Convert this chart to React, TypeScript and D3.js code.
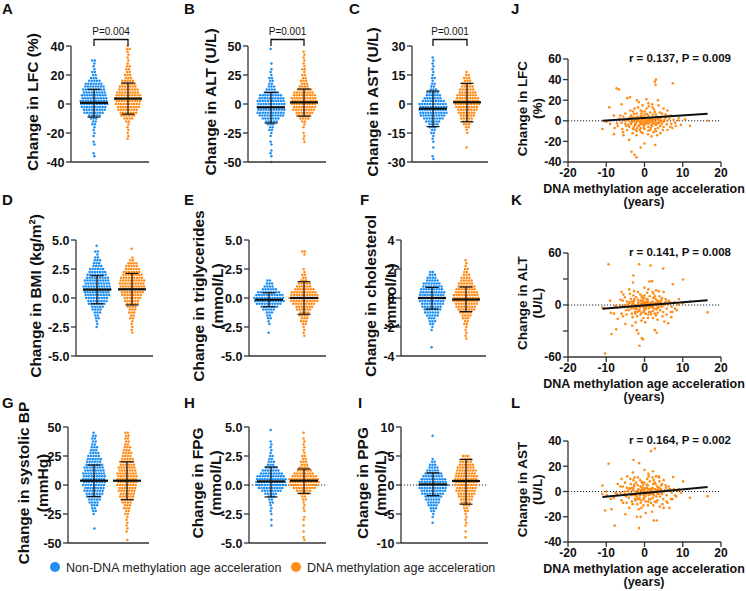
import * as d3 from 'd3';

const BLUE = '#1e8ff2';
const ORANGE = '#ff8c17';
const FONT = '"Liberation Sans", Arial, Helvetica, sans-serif';
const AXIS = '#333';

const legendLabels = ['Non-DNA methylation age acceleration', 'DNA methylation age acceleration'];

// Swarm panels: each group is a list of dot counts per row, read from its top value downward.
// Stats are [mean, mean + SD, mean - SD].

// A. LFC (%)
const lfcStep = 2;
const lfcTops = [30, 40];
const lfcNon = [2, 1, 1, 1, 2, 2, 3, 5, 7, 8, 9, 9, 10, 10, 11, 11, 10, 9, 8, 5, 3, 2, 2, 1, 1, 1, 1, 0, 1, 1, 0, 0, 1, 1];
const lfcAcc = [1, 2, 1, 1, 1, 1, 1, 2, 2, 2, 3, 3, 5, 6, 7, 8, 9, 10, 10, 10, 10, 9, 8, 7, 6, 4, 2, 1, 1, 1, 1, 1, 1];
const lfcStats = [[0.8, 10.1, -9], [3.7, 14.5, -7]];
const lfcTicks = [-40, -20, 0, 20, 40];

// B. ALT (U/L)
const altStep = 2.5;
const altTops = [47.5, 45];
const altNon = [1, 0, 0, 0, 0, 1, 0, 1, 1, 1, 2, 2, 2, 3, 4, 6, 9, 10, 11, 11, 11, 11, 11, 10, 7, 5, 3, 2, 2, 1, 1, 0, 1, 1, 0, 1, 1, 1, 0, 1];
const altAcc = [1, 1, 1, 1, 1, 1, 2, 1, 2, 2, 3, 3, 4, 6, 8, 9, 10, 10, 10, 9, 9, 7, 6, 4, 2, 1, 1, 0, 1, 1, 1, 1];
const altStats = [[-2.9, 10, -16.4], [1.4, 12.9, -10.5]];
const altTicks = [-50, -25, 0, 25, 50];

// C. AST (U/L)
const astStep = 1.5;
const astTops = [24, 16.5];
const astNon = [1, 1, 1, 1, 1, 1, 1, 2, 1, 2, 2, 3, 5, 6, 7, 9, 11, 11, 11, 11, 10, 8, 6, 4, 3, 2, 2, 1, 1, 1, 0, 1, 0, 0, 1, 1];
const astAcc = [1, 2, 3, 3, 4, 5, 6, 7, 8, 9, 10, 10, 9, 8, 7, 6, 5, 4, 3, 2, 1, 1, 0, 0, 0, 0, 1];
const astStats = [[-2.4, 6.7, -11.7], [0.9, 10.7, -9.2]];
const astTicks = [-30, -15, 0, 15, 30];

// D. BMI (kg/m2)
const bmiStep = 0.25;
const bmiTops = [4.5, 4.25];
const bmiNon = [1, 0, 2, 1, 2, 3, 3, 4, 6, 7, 8, 9, 10, 10, 11, 11, 10, 10, 9, 8, 7, 5, 4, 3, 2, 2, 1, 1, 1];
const bmiAcc = [1, 0, 0, 1, 2, 4, 5, 6, 7, 8, 9, 10, 10, 10, 10, 9, 8, 7, 6, 5, 4, 3, 3, 2, 2, 1, 1, 1, 1, 1];
const bmiStats = [[0.72, 1.92, -0.5], [0.75, 2.12, -0.6]];
const bmiTicks = [-5, -2.5, 0, 2.5, 5];

// E. Triglycerides (mmol/L)
const tgStep = 0.25;
const tgTops = [1.5, 4];
const tgNon = [2, 3, 4, 6, 9, 11, 12, 12, 10, 7, 5, 3, 2, 2, 1, 1, 0, 0, 1];
const tgAcc = [2, 1, 0, 0, 0, 0, 1, 1, 2, 2, 3, 5, 6, 8, 10, 11, 12, 11, 9, 7, 6, 4, 4, 3, 3, 2, 1, 1, 1, 1];
const tgStats = [[-0.15, 0.45, -0.75], [0, 1.4, -1.4]];
const tgTicks = [-5, -2.5, 0, 2.5, 5];

// F. Cholesterol (mmol/L)
const cholStep = 0.2;
const cholTops = [1.8, 2.6];
const cholNon = [2, 3, 4, 5, 7, 8, 9, 10, 10, 10, 10, 9, 8, 7, 6, 5, 3, 3, 2, 1, 1, 0, 0, 0, 0, 0, 1];
const cholAcc = [1, 1, 1, 2, 2, 3, 4, 5, 6, 7, 8, 9, 10, 10, 10, 9, 8, 7, 5, 4, 3, 2, 2, 1, 1, 1, 1, 1];
const cholStats = [[0, 0.73, -0.76], [-0.1, 0.76, -0.94]];
const cholTicks = [-4, -2, 0, 2, 4];

// G. Systolic BP (mmHg)
const sbpStep = 2.5;
const sbpTops = [45, 45];
const sbpNon = [1, 2, 2, 2, 2, 3, 3, 4, 5, 6, 6, 7, 8, 8, 9, 9, 9, 9, 9, 8, 8, 7, 6, 5, 4, 3, 2, 2, 1, 0, 0, 0, 0, 1];
const sbpAcc = [2, 2, 2, 2, 2, 3, 3, 4, 4, 5, 6, 6, 7, 7, 8, 8, 8, 8, 8, 7, 7, 6, 6, 5, 4, 3, 3, 2, 2, 1, 1, 1, 1, 1, 1, 0, 0, 1];
const sbpStats = [[3.7, 17.2, -10], [3.7, 20, -12.7]];
const sbpTicks = [-50, -25, 0, 25, 50];

// H. FPG (mmol/L)
const fpgStep = 0.25;
const fpgTops = [4.75, 4.5];
const fpgNon = [1, 0, 0, 0, 1, 1, 1, 1, 1, 2, 2, 3, 3, 5, 7, 9, 11, 12, 12, 12, 10, 8, 5, 3, 2, 2, 1, 1, 1, 1, 0, 1, 0, 1];
const fpgAcc = [1, 0, 1, 1, 1, 1, 1, 1, 2, 2, 3, 3, 4, 6, 8, 10, 12, 12, 11, 9, 6, 4, 2, 2, 1, 1, 1, 1, 0, 1, 1, 0, 1, 0, 1, 0, 1, 1];
const fpgStats = [[0.31, 1.55, -1.03], [0.37, 1.38, -0.72]];
const fpgTicks = [-5, -2.5, 0, 2.5, 5];

// I. PPG (mmol/L)
const ppgStep = 0.5;
const ppgTops = [8.5, 5];
const ppgNon = [1, 0, 0, 0, 0, 0, 0, 0, 1, 2, 3, 4, 5, 7, 8, 10, 11, 12, 11, 10, 9, 7, 6, 5, 4, 3, 2, 1, 1, 0, 1];
const ppgAcc = [3, 4, 5, 6, 7, 8, 8, 9, 9, 9, 9, 8, 8, 7, 6, 5, 4, 3, 2, 2, 1, 1, 1, 1, 1, 0, 1, 0, 1];
const ppgStats = [[0.1, 2.1, -1.84], [0.69, 4.4, -3.3]];
const ppgTicks = [-10, -5, 0, 5, 10];

// Scatter panels: DNA methylation age acceleration (years) vs change
const accelTicks = [-20, -10, 0, 10, 20];

const lfcPoints: [number, number][] = [
  [3, 40], [2.7, 38], [2.9, 35], [7.4, 36.5], [-7.3, 31.5], [-6.7, 30.5], [-3.8, 23], [-4.5, 22], [-3.4, -30], [-2.6, -33],
  [-2.1, -35.5], [2.8, -23.5], [-4, -18.5], [-1, -26], [0, -22], [-11, -8], [-9.2, 13], [16.5, 0], [11.9, -4.8], [10.6, 1.5],
  [-5.5, -14], [-8, -13], [1.8, -15], [4.2, -12], [-2, 20], [-1.5, 18], [1, 17], [2, 16], [-0.5, 15], [0.5, 21],
  [3.5, 20], [-6, 16], [-8, 5], [-10, -1], [-9, -3], [9, 3], [8, -2], [7, 5], [9.5, -4], [6, 10], [5, 12], [-7, -5], [-6.5, 2],
  [-5, -3], [-4.5, 2], [-4, -6], [-3.5, 5], [-3, 0], [-3, -8], [-2.5, 3], [-2.5, -4], [-2, 7], [-2, -1],
  [-2, -10], [-1.5, 2], [-1.5, -5], [-1, 10], [-1, 0], [-1, -3], [-1, -7], [-0.5, 4], [-0.5, -2], [-0.5, -12],
  [0, 1], [0, -4], [0, 6], [0, -8], [0.5, 2], [0.5, -1], [0.5, 12], [1, -3], [1, 5], [1, -6],
  [1.5, 0], [1.5, 8], [1.5, -9], [2, 3], [2, -2], [2, -5], [2.5, 1], [2.5, 11], [3, -4], [3, 6],
  [3, -1], [3.5, 2], [3.5, -7], [4, 0], [4, 8], [4.5, -3], [4.5, 4], [5, -1], [5, -6], [5.5, 3],
  [6, 0], [6, -9], [6.5, 2], [7, -3], [-6, -2], [-5.5, 4], [-5, 7], [-4.5, -9], [-4, 1], [-3.5, -3],
  [-3, 9], [-2.8, -6], [-2.2, 1], [-1.8, 4], [-1.2, -9], [-0.8, 7], [-0.2, -5], [0.3, 3], [0.8, -2], [1.2, 1],
  [1.8, -4], [2.2, 6], [2.8, -8], [3.2, 4], [3.8, -2], [4.2, 2], [-1.6, 0], [-0.6, 1], [0.2, -1], [1.4, -1],
  [2.6, -3], [-3.2, -1], [-2.4, -2], [-0.4, -3], [0.7, 0], [1.7, 2], [-1.3, -4], [3.6, 1], [-4.2, -4], [5.2, 1],
  [-2.6, 12], [4.8, -9], [-0.9, -11], [1.1, 14], [2.4, -11], [-3.7, 10], [6.8, -6], [-5.8, -8], [8.2, -5], [7.6, 1],
  [-7.8, -7], [0.1, 9], [-2.1, -14], [3.3, -14],
  [-3.6, -1.5], [-2.9, 2.5], [-2.3, -3.5], [-1.7, 1.5], [-1.1, -1.5], [-0.7, 3.5], [-0.3, 0.5], [0.4, -2.5], [0.9, 2.5], [1.3, -0.5],
  [1.9, 0.5], [2.3, -1.5], [2.9, 2], [3.4, -2.5], [3.9, 3.5], [4.4, -0.5], [-4.4, 0.5], [-3.9, 3], [-1.9, -7], [-0.2, -7],
  [1.6, -7], [2.7, 8.5], [-0.6, 9], [0.6, 6.5], [-2.7, 6.5], [4.6, 7], [5.8, -3.5], [6.3, 4.5], [-5.2, 0], [-4.8, -5],
  [2.1, 13], [-1.7, 13], [0.9, -13], [3.7, 15], [-3.1, -12], [5.5, 6], [-6.3, 5], [7.3, -7], [-0.1, 3], [1, -9.5],
  [-2.4, -8.5], [3, -10], [-5.6, -11], [4.1, -5], [-1, 4.5], [0.2, -2], [2, 0.5], [-3.3, 3.5], [8.8, 0.5], [-7.2, -2.5],
];
const lfcFit: [number, number][] = [[-11, 0], [16.5, 6.8]];
const lfcTicksR = [-40, -20, 0, 20, 40, 60];

const altPoints: [number, number][] = [
  [-9.4, 47], [-1.4, 47], [1.6, 45.5], [4.9, 42], [-2.9, 34], [1.3, 27], [2, 27.5], [-3, 26], [10.1, 29.5], [7.4, 24],
  [-10.3, -56], [-0.7, -38], [-0.4, -39.5], [-1.3, -47], [-8.6, -33.5], [-7.4, -28], [2.7, -29], [3.2, -32], [16.5, -8.5], [11.9, 4],
  [-11, -3], [-5, -22], [-3.2, -24], [0.2, -20], [-2, -29], [5.2, -19], [7, -14], [-6, 15], [-4, 18], [0, 20],
  [3, 17], [5, 15], [-8, -10], [-9, 5], [9, 7], [8, -4], [10, 2], [-7, -16], [-5.5, 12], [6.2, -21], [-1.6, -33],
  [-5.2, -2], [-4.6, 4], [-4.1, -6], [-3.6, 7], [-3.1, 1], [-3.3, -10], [-2.7, 5], [-2.6, -4], [-2.2, 9], [-2.1, -2],
  [-1.9, -13], [-1.6, 3], [-1.4, -7], [-1.1, 12], [-0.9, 1], [-1.2, -3], [-0.8, -9], [-0.4, 6], [-0.6, -1], [-0.3, -15],
  [0.1, 2], [0.2, -5], [-0.1, 8], [0.3, -10], [0.6, 3], [0.4, -2], [0.7, 14], [1.1, -4], [0.9, 6], [1.2, -8],
  [1.6, 1], [1.4, 10], [1.7, -11], [2.1, 4], [1.9, -1], [2.2, -7], [2.6, 2], [2.4, 13], [3.1, -5], [2.9, 7],
  [3.2, 0], [3.6, 4], [3.4, -9], [4.1, 1], [3.9, 10], [4.6, -2], [4.4, 6], [5.1, 0], [4.9, -8], [5.6, 4],
  [6.1, 1], [5.8, -11], [6.6, 3], [7.1, -2], [-6.2, -1], [-5.7, 5], [-5.1, 9], [-4.7, -11], [-3.9, 2], [-3.4, -4],
  [-2.9, 11], [-2.5, -8], [-2.3, 0], [-1.7, 6], [-1, -11], [-0.7, 9], [-0.1, -6], [0.5, 4], [1, -1], [1.3, 2],
  [2, -3], [2.3, 8], [2.7, -10], [3.3, 5], [3.7, -3], [4.3, 3], [-1.5, -1], [-0.5, 2], [0, 0], [1.5, -2],
  [2.5, -4], [-3, -2], [-2, -5], [-0.2, -3], [0.8, 1], [1.8, 3], [-1.3, -6], [3.5, 2], [-4.3, -3], [5.3, 2],
  [-2.7, 16], [4.7, -13], [-0.8, -18], [1, 18], [2.2, -15], [-3.8, 13], [6.9, -8], [-6, -10], [8.4, -6], [7.8, 3],
  [-7.6, -1], [0, 11], [-2.3, -20], [3.4, -17], [-8.8, -9], [-10.5, -4],
  [-3.6, -1.5], [-2.9, 3], [-2.3, -4], [-1.7, 1.5], [-1.1, -2], [-0.7, 4], [-0.3, 0.5], [0.4, -3], [0.9, 3], [1.3, -0.5],
  [1.9, 0.5], [2.3, -2], [2.9, 2.5], [3.4, -3], [3.9, 4], [4.4, -1], [-4.4, 0.5], [-3.9, 3.5], [-1.9, -8], [-0.2, -8],
  [1.6, -8], [2.7, 10], [-0.6, 10], [0.6, 7], [-2.7, 7], [4.6, 8], [5.8, -4], [6.3, 5], [-5.2, 0], [-4.8, -6],
  [2.1, 15], [-1.7, 15], [0.9, -15], [3.7, 16], [-3.1, -14], [5.5, 7], [-6.3, 6], [7.3, -8], [-0.1, 3], [1, -11],
  [-2.4, -10], [3, -12], [-5.6, -13], [4.1, -6], [-1, 5], [0.2, -2], [2, 0.5], [-3.3, 4], [8.8, 0.5], [-7.2, -3],
];
const altFit: [number, number][] = [[-11, -4.3], [16.5, 5.4]];
const altTicksR = [-60, -30, 0, 30, 60];

const astPoints: [number, number][] = [
  [1.7, 32], [2.7, 34], [-9.4, 22], [-2.9, 25], [-1.4, 22.5], [-7.8, -27], [-1.4, -29], [2.4, -23], [3.2, -23], [16.5, -3.7],
  [11.9, -5], [10.1, 8], [7.5, 11.5], [1, 14], [-11, 4.8], [-10.3, -15], [-8.6, -14], [-5, -18], [-2, -20], [-1, -20],
  [0.3, -17], [4, -12], [5, -13], [6.5, -13], [-3, 15], [3, 12], [5, 9], [-6, 10], [-8, -5], [9, 2],
  [8, -3], [-4, -13], [2, -16], [-11, -2], [-10, 0], [-4.5, 12], [0, 17], [2.2, 16], [3.8, 11], [-7, 6], [9.6, -1], [6, -9], [-1.5, -14],
  [-5.2, -2], [-4.6, 3], [-4.1, -5], [-3.6, 6], [-3.1, 1], [-3.3, -8], [-2.7, 4], [-2.6, -3], [-2.2, 7], [-2.1, -1],
  [-1.9, -10], [-1.6, 2], [-1.4, -6], [-1.1, 9], [-0.9, 1], [-1.2, -3], [-0.8, -7], [-0.4, 5], [-0.6, -1], [-0.3, -11],
  [0.1, 2], [0.2, -4], [-0.1, 7], [0.3, -8], [0.6, 3], [0.4, -2], [0.7, 10], [1.1, -3], [0.9, 5], [1.2, -6],
  [1.6, 1], [1.4, 8], [1.7, -9], [2.1, 3], [1.9, -1], [2.2, -5], [2.6, 2], [2.4, 9], [3.1, -4], [2.9, 6],
  [3.2, 0], [3.6, 3], [3.4, -7], [4.1, 1], [3.9, 8], [4.6, -2], [4.4, 5], [5.1, 0], [4.9, -6], [5.6, 3],
  [6.1, 1], [5.8, -8], [6.6, 2], [7.1, -1], [-6.2, -1], [-5.7, 4], [-5.1, 7], [-4.7, -9], [-3.9, 2], [-3.4, -3],
  [-2.9, 9], [-2.5, -6], [-2.3, 0], [-1.7, 5], [-1, -9], [-0.7, 7], [-0.1, -5], [0.5, 3], [1, -1], [1.3, 2],
  [2, -2], [2.3, 6], [2.7, -8], [3.3, 4], [3.7, -2], [4.3, 2], [-1.5, -1], [-0.5, 1], [0, 0], [1.5, -2],
  [2.5, -3], [-3, -2], [-2, -4], [-0.2, -3], [0.8, 0], [1.8, 2], [-1.3, -5], [3.5, 1], [-4.3, -2], [5.3, 1],
  [-2.6, 11], [4.7, -10], [-0.8, -13], [1.1, 12], [2.3, -11], [-3.7, 10], [6.9, -6], [-6, -7], [8.3, -4], [7.7, 2],
  [-7.6, -1], [-8.8, -6], [-9.8, -3],
  [-3.6, -1], [-2.9, 2], [-2.3, -3], [-1.7, 1], [-1.1, -1.5], [-0.7, 3], [-0.3, 0.5], [0.4, -2], [0.9, 2], [1.3, -0.5],
  [1.9, 0.5], [2.3, -1.5], [2.9, 1.5], [3.4, -2], [3.9, 3], [4.4, -0.5], [-4.4, 0.5], [-3.9, 2.5], [-1.9, -6], [-0.2, -6],
  [1.6, -6], [2.7, 7], [-0.6, 7.5], [0.6, 5.5], [-2.7, 5.5], [4.6, 6], [5.8, -3], [6.3, 4], [-5.2, 0], [-4.8, -4],
  [2.1, 11], [-1.7, 11], [0.9, -11], [3.7, 12], [-3.1, -10], [5.5, 5], [-6.3, 4], [7.3, -6], [-0.1, 2.5], [1, -8],
  [-2.4, -7], [3, -8.5], [-5.6, -9], [4.1, -4], [-1, 4], [0.2, -1.5], [2, 0.5], [-3.3, 3], [8.8, 0.5], [-7.2, -2],
];
const astFit: [number, number][] = [[-11, -4.3], [16.5, 3.6]];
const astTicksR = [-40, -20, 0, 20, 40];

const intFmt = (v: number) => String(v);
const oneFmt = (v: number) => v.toFixed(1);

type SwarmPanel = {
  letter: string; lx: number; ly: number;
  title: string[]; tx: number[];
  axisX: number; xEnd: number; top: number; bottom: number; centers: number[];
  ticks: number[]; fmt: (v: number) => string;
  step: number; tops: number[]; groups: number[][]; stats: number[][];
  p?: string; zero?: boolean;
};

const swarmPanels: SwarmPanel[] = [
  { letter: 'A', lx: 2, ly: 14, title: ['Change in LFC (%)'], tx: [38], axisX: 71, xEnd: 149, top: 46, bottom: 162, centers: [94, 128], ticks: lfcTicks, fmt: intFmt, step: lfcStep, tops: lfcTops, groups: [lfcNon, lfcAcc], stats: lfcStats, p: 'P=0.004' },
  { letter: 'B', lx: 184, ly: 14, title: ['Change in ALT (U/L)'], tx: [216], axisX: 248, xEnd: 326, top: 46, bottom: 162, centers: [271, 304], ticks: altTicks, fmt: intFmt, step: altStep, tops: altTops, groups: [altNon, altAcc], stats: altStats, p: 'P=0.001' },
  { letter: 'C', lx: 349, ly: 14, title: ['Change in AST (U/L)'], tx: [378], axisX: 412, xEnd: 488, top: 46, bottom: 162, centers: [433, 467], ticks: astTicks, fmt: intFmt, step: astStep, tops: astTops, groups: [astNon, astAcc], stats: astStats, p: 'P=0.001' },
  { letter: 'D', lx: 2, ly: 205, title: ['Change in BMI (kg/m\u00b2)'], tx: [41], axisX: 76, xEnd: 153, top: 240, bottom: 356, centers: [97, 132], ticks: bmiTicks, fmt: oneFmt, step: bmiStep, tops: bmiTops, groups: [bmiNon, bmiAcc], stats: bmiStats },
  { letter: 'E', lx: 184, ly: 205, title: ['Change in triglycerides', '(mmol/L)'], tx: [204, 223], axisX: 249, xEnd: 326, top: 240, bottom: 356, centers: [269, 304], ticks: tgTicks, fmt: oneFmt, step: tgStep, tops: tgTops, groups: [tgNon, tgAcc], stats: tgStats },
  { letter: 'F', lx: 360, ly: 205, title: ['Change in cholesterol', '(mmol/L)'], tx: [376, 396], axisX: 401, xEnd: 486, top: 240, bottom: 356, centers: [432, 466], ticks: cholTicks, fmt: intFmt, step: cholStep, tops: cholTops, groups: [cholNon, cholAcc], stats: cholStats },
  { letter: 'G', lx: 2, ly: 408, title: ['Change in systolic BP', '(mmHg)'], tx: [29, 47.5], axisX: 68, xEnd: 149, top: 427, bottom: 543, centers: [94, 127], ticks: sbpTicks, fmt: intFmt, step: sbpStep, tops: sbpTops, groups: [sbpNon, sbpAcc], stats: sbpStats },
  { letter: 'H', lx: 184, ly: 408, title: ['Change in FPG', '(mmol/L)'], tx: [203, 221], axisX: 249, xEnd: 326, top: 427, bottom: 543, centers: [271, 304], ticks: fpgTicks, fmt: oneFmt, step: fpgStep, tops: fpgTops, groups: [fpgNon, fpgAcc], stats: fpgStats, zero: true },
  { letter: 'I', lx: 358, ly: 408, title: ['Change in PPG', '(mmol/L)'], tx: [368, 386], axisX: 401, xEnd: 488, top: 427, bottom: 543, centers: [433, 466], ticks: ppgTicks, fmt: intFmt, step: ppgStep, tops: ppgTops, groups: [ppgNon, ppgAcc], stats: ppgStats, zero: true },
];

type ScatterPanel = {
  letter: string; ly: number; title: string[]; top: number; bottom: number;
  ticks: number[]; labelled: number[]; points: [number, number][]; fit: [number, number][]; stat: string;
};

const scatterPanels: ScatterPanel[] = [
  { letter: 'J', ly: 14, title: ['Change in LFC', '(%)'], top: 59, bottom: 162, ticks: lfcTicksR, labelled: lfcTicksR, points: lfcPoints, fit: lfcFit, stat: 'r = 0.137, P = 0.009' },
  { letter: 'K', ly: 205, title: ['Change in ALT', '(U/L)'], top: 253, bottom: 357, ticks: altTicksR, labelled: [-60, 0, 60], points: altPoints, fit: altFit, stat: 'r = 0.141, P = 0.008' },
  { letter: 'L', ly: 408, title: ['Change in AST', '(U/L)'], top: 441, bottom: 542, ticks: astTicksR, labelled: astTicksR, points: astPoints, fit: astFit, stat: 'r = 0.164, P = 0.002' },
];

const COLORS = [BLUE, ORANGE];
const DOT_GAP = 2.6;

function YAxis({ x, y, ticks, labelled, fmt, size }: { x: number; y: d3.ScaleLinear<number, number>; ticks: number[]; labelled: number[]; fmt: (v: number) => string; size: number }) {
  const [lo, hi] = d3.extent(ticks) as [number, number];
  return (
    <g>
      <line x1={x} x2={x} y1={y(lo)} y2={y(hi)} stroke={AXIS} strokeWidth={1.3} />
      {ticks.map((t) => (
        <g key={t}>
          <line x1={x - 5} x2={x} y1={y(t)} y2={y(t)} stroke={AXIS} strokeWidth={1.3} />
          {labelled.includes(t) && (
            <text x={x - 6.5} y={y(t)} dy="0.36em" textAnchor="end" fontSize={size} fontWeight="bold" fill="#111">
              {fmt(t)}
            </text>
          )}
        </g>
      ))}
    </g>
  );
}

function RotTitle({ lines, xs, cy, size }: { lines: string[]; xs: number[]; cy: number; size: number }) {
  return (
    <g>
      {lines.map((l, i) => (
        <text key={i} transform={`translate(${xs[i]},${cy}) rotate(-90)`} textAnchor="middle" fontSize={size} fontWeight="bold" fill="#111">
          {l}
        </text>
      ))}
    </g>
  );
}

function Swarm({ p }: { p: SwarmPanel }) {
  const [lo, hi] = d3.extent(p.ticks) as [number, number];
  const y = d3.scaleLinear().domain([lo, hi]).range([p.bottom, p.top]);
  const dots: JSX.Element[] = [];
  p.groups.forEach((counts, gi) => {
    const cx = p.centers[gi];
    counts.forEach((n, ri) => {
      const v = p.tops[gi] - ri * p.step;
      for (let j = 0; j < n; j++) {
        const dx = (j - (n - 1) / 2) * DOT_GAP + (ri % 2 ? 0.4 : -0.4);
        dots.push(<circle key={`${gi}-${ri}-${j}`} cx={cx + dx} cy={y(v)} r={1.25} fill={COLORS[gi]} />);
      }
    });
  });
  const cy = (p.top + p.bottom) / 2 - 2;
  return (
    <g>
      <text x={p.lx} y={p.ly} fontSize={15} fontWeight="bold" fill="#111">{p.letter}</text>
      <RotTitle lines={p.title} xs={p.tx} cy={cy} size={15.5} />
      {p.zero && (
        <line x1={p.axisX} x2={p.xEnd} y1={y(0)} y2={y(0)} stroke="#222" strokeWidth={1} strokeDasharray="1.2,1.8" />
      )}
      {dots}
      {p.stats.map(([m, sHi, sLo], gi) => {
        const cx = p.centers[gi];
        return (
          <g key={gi} stroke="#111">
            <line x1={cx} x2={cx} y1={y(sHi)} y2={y(sLo)} strokeWidth={1.2} />
            <line x1={cx - 6.5} x2={cx + 6.5} y1={y(sHi)} y2={y(sHi)} strokeWidth={1.2} />
            <line x1={cx - 6.5} x2={cx + 6.5} y1={y(sLo)} y2={y(sLo)} strokeWidth={1.2} />
            <line x1={cx - 14} x2={cx + 14} y1={y(m)} y2={y(m)} strokeWidth={2.2} />
          </g>
        );
      })}
      <YAxis x={p.axisX} y={y} ticks={p.ticks} labelled={p.ticks} fmt={p.fmt} size={12.5} />
      <line x1={p.axisX} x2={p.xEnd} y1={p.bottom} y2={p.bottom} stroke={AXIS} strokeWidth={1.3} />
      {p.p && (
        <g>
          <path
            d={`M${p.centers[0]},${p.top} V${p.top - 6.5} H${p.centers[1]} V${p.top}`}
            fill="none" stroke="#111" strokeWidth={1.3}
          />
          <text x={(p.centers[0] + p.centers[1]) / 2} y={p.top - 11} textAnchor="middle" fontSize={10} fill="#111">{p.p}</text>
        </g>
      )}
    </g>
  );
}

function Scatter({ p }: { p: ScatterPanel }) {
  const x = d3.scaleLinear().domain([-20, 20]).range([568, 721]);
  const [lo, hi] = d3.extent(p.ticks) as [number, number];
  const y = d3.scaleLinear().domain([lo, hi]).range([p.bottom, p.top]);
  const line = d3.line<[number, number]>().x((d) => x(d[0])).y((d) => y(d[1]));
  const cy = (p.top + p.bottom) / 2 - 2;
  return (
    <g>
      <text x={511} y={p.ly} fontSize={15} fontWeight="bold" fill="#111">{p.letter}</text>
      <RotTitle lines={p.title} xs={[527, 542]} cy={cy} size={13.5} />
      <line x1={x(-20)} x2={x(20)} y1={y(0)} y2={y(0)} stroke="#222" strokeWidth={1} strokeDasharray="1.2,1.8" />
      {p.points.map((d, i) => (
        <circle key={i} cx={x(d[0])} cy={y(d[1])} r={1.3} fill={ORANGE} />
      ))}
      <path d={line(p.fit) ?? ''} fill="none" stroke="#111" strokeWidth={2} />
      <YAxis x={568} y={y} ticks={p.ticks} labelled={p.labelled} fmt={intFmt} size={12} />
      <line x1={568} x2={721} y1={p.bottom} y2={p.bottom} stroke={AXIS} strokeWidth={1.3} />
      {accelTicks.map((t) => (
        <g key={t}>
          <line x1={x(t)} x2={x(t)} y1={p.bottom} y2={p.bottom + 5} stroke={AXIS} strokeWidth={1.3} />
          <text x={x(t)} y={p.bottom + 15} textAnchor="middle" fontSize={12} fontWeight="bold" fill="#111">{t}</text>
        </g>
      ))}
      <text x={644} y={p.bottom + 31} textAnchor="middle" fontSize={12.5} fontWeight="bold" fill="#111">DNA methylation age acceleration</text>
      <text x={644} y={p.bottom + 44} textAnchor="middle" fontSize={12.5} fontWeight="bold" fill="#111">(years)</text>
      <text x={731} y={p.top + 3} textAnchor="end" fontSize={11.5} fontWeight="bold" fill="#111">{p.stat}</text>
    </g>
  );
}

export default function App() {
  const legendX = [55, 296];
  return (
    <svg
      width={746}
      height={591}
      viewBox="0 0 746 591"
      style={{ position: 'absolute', left: 0, top: 0, background: '#fff' }}
      fontFamily={FONT}
    >
      <rect width={746} height={591} fill="#fff" />
      {swarmPanels.map((p) => <Swarm key={p.letter} p={p} />)}
      {scatterPanels.map((p) => <Scatter key={p.letter} p={p} />)}
      {legendLabels.map((l, i) => (
        <g key={l}>
          <circle cx={legendX[i]} cy={567} r={5} fill={COLORS[i]} />
          <text x={legendX[i] + 11} y={571.5} fontSize={12.5} fill="#222">{l}</text>
        </g>
      ))}
    </svg>
  );
}
